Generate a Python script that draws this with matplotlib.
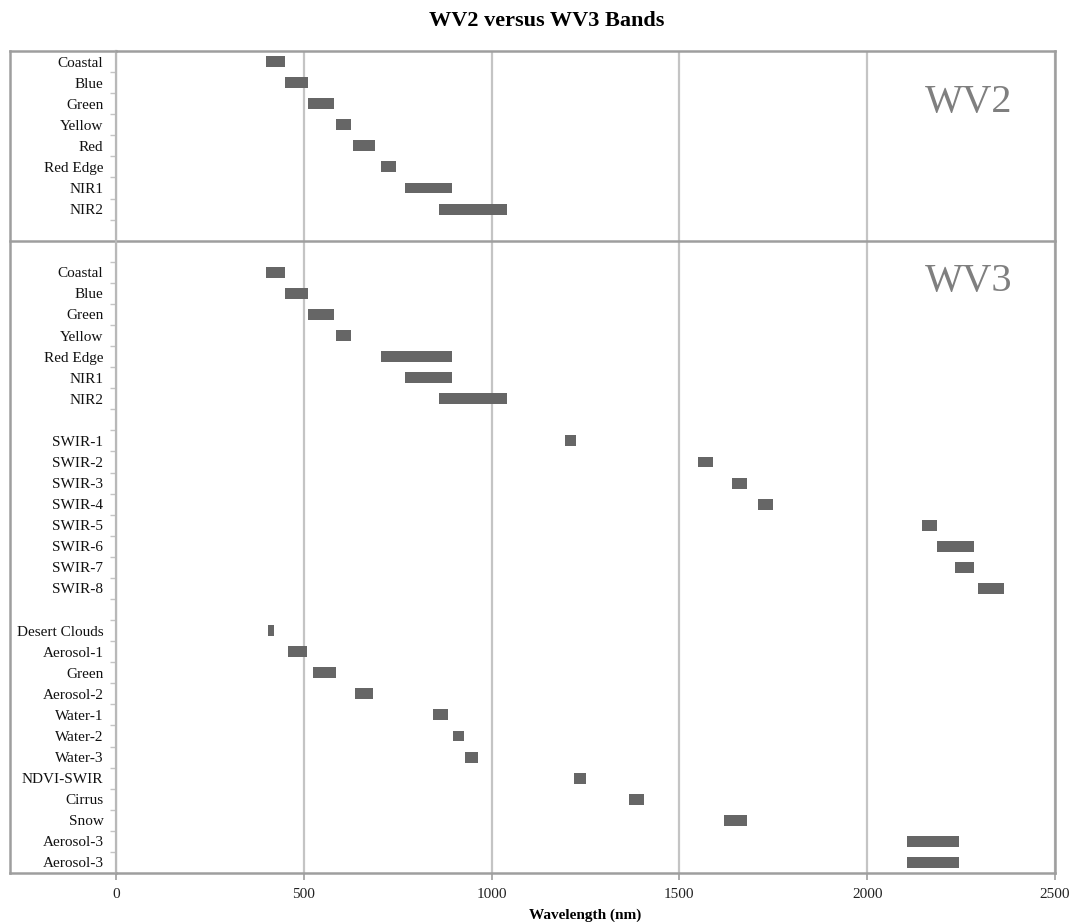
import matplotlib.pyplot as plt
from matplotlib.lines import Line2D

# --- data (nm) ---
wv2_bands = ['Coastal', 'Blue', 'Green', 'Yellow', 'Red', 'Red Edge', 'NIR1', 'NIR2']
wv2_start = [400, 450, 510, 585, 630, 705, 770, 860]
wv2_end = [450, 510, 580, 625, 690, 745, 895, 1040]

wv3_vnir_bands = ['Coastal', 'Blue', 'Green', 'Yellow', 'Red Edge', 'NIR1', 'NIR2']
wv3_vnir_start = [400, 450, 510, 585, 705, 770, 860]
wv3_vnir_end = [450, 510, 580, 625, 895, 895, 1040]

swir_bands = ['SWIR-1', 'SWIR-2', 'SWIR-3', 'SWIR-4', 'SWIR-5', 'SWIR-6', 'SWIR-7', 'SWIR-8']
swir_start = [1195, 1550, 1640, 1710, 2145, 2185, 2235, 2295]
swir_end = [1225, 1590, 1680, 1750, 2185, 2285, 2285, 2365]

cavis_bands = ['Desert Clouds', 'Aerosol-1', 'Green', 'Aerosol-2', 'Water-1', 'Water-2',
               'Water-3', 'NDVI-SWIR', 'Cirrus', 'Snow', 'Aerosol-3', 'Aerosol-3']
cavis_start = [405, 459, 525, 635, 845, 897, 930, 1220, 1365, 1620, 2105, 2105]
cavis_end = [420, 509, 585, 685, 885, 927, 965, 1252, 1405, 1680, 2245, 2245]

x_ticks = [0, 500, 1000, 1500, 2000, 2500]

# rows: groups separated by one empty row (two around the WV2/WV3 split)
groups = [
    (wv2_bands, wv2_start, wv2_end, 0),
    (wv3_vnir_bands, wv3_vnir_start, wv3_vnir_end, 10),
    (swir_bands, swir_start, swir_end, 18),
    (cavis_bands, cavis_start, cavis_end, 27),
]
n_rows = 39
split_row = 8.5

serif = 'Liberation Serif'
frame_col = '#9e9e9e'
grid_col = '#c4c4c4'
bar_col = '#666666'

fig = plt.figure(figsize=(10.72, 9.22), dpi=100)
ax = fig.add_axes([116 / 1072, 1 - 873 / 922, 939 / 1072, 822 / 922])

labels = [''] * n_rows
for names, start, end, first in groups:
    rows = [first + i for i in range(len(names))]
    widths = [e - s for s, e in zip(start, end)]
    ax.barh(rows, widths, left=start, height=0.52, color=bar_col, zorder=3)
    for r, nm in zip(rows, names):
        labels[r] = nm

ax.set_xlim(0, 2500)
ax.set_ylim(n_rows - 0.5, -0.5)
ax.set_xticks(x_ticks)
ax.set_xticklabels([str(t) for t in x_ticks], fontfamily=serif, fontsize=11, color='#222222')

ax.set_yticks(range(n_rows))
ax.set_yticklabels(labels, fontfamily=serif, fontsize=11, color='#111111')
ax.set_yticks([r + 0.5 for r in range(n_rows - 1) if r + 0.5 != split_row], minor=True)
ax.tick_params(axis='y', which='major', length=0, pad=9)
ax.tick_params(axis='y', which='minor', length=4, color=grid_col, width=1)
ax.tick_params(axis='x', length=5, color=frame_col, width=1.2, pad=6)

ax.grid(axis='x', color=grid_col, linewidth=1.6, zorder=0)
ax.set_axisbelow(True)
for side in ['top', 'right', 'bottom']:
    ax.spines[side].set_color(frame_col)
    ax.spines[side].set_linewidth(1.8)
ax.spines['left'].set_color('#b8b8b8')
ax.spines['left'].set_linewidth(1.6)

# outer frame around labels and the WV2 / WV3 split line
fx = (10 - 116) / 939
frame_lines = [
    ([fx, fx], [0, 1]),
    ([fx, 0], [1, 1]),
    ([fx, 0], [0, 0]),
]
for xs, ys in frame_lines:
    ax.add_line(Line2D(xs, ys, transform=ax.transAxes, color=frame_col,
                       linewidth=1.8, clip_on=False))
split_y = 1 - (split_row + 0.5) / n_rows
ax.add_line(Line2D([fx, 1], [split_y, split_y], transform=ax.transAxes,
                   color=frame_col, linewidth=1.8, clip_on=False))

ax.text(2270, 1.95, 'WV2', fontfamily=serif, fontsize=29, color='#7f7f7f',
        ha='center', va='center')
ax.text(2270, 10.45, 'WV3', fontfamily=serif, fontsize=29, color='#7f7f7f',
        ha='center', va='center')

ax.set_xlabel('Wavelength (nm)', fontfamily=serif, fontsize=11, fontweight='bold',
              labelpad=5)
fig.text(547 / 1072, 1 - 21 / 922, 'WV2 versus WV3 Bands', fontfamily=serif,
         fontsize=16, fontweight='bold', ha='center', va='center')

fig.savefig('out.png', dpi=100, facecolor='white')
